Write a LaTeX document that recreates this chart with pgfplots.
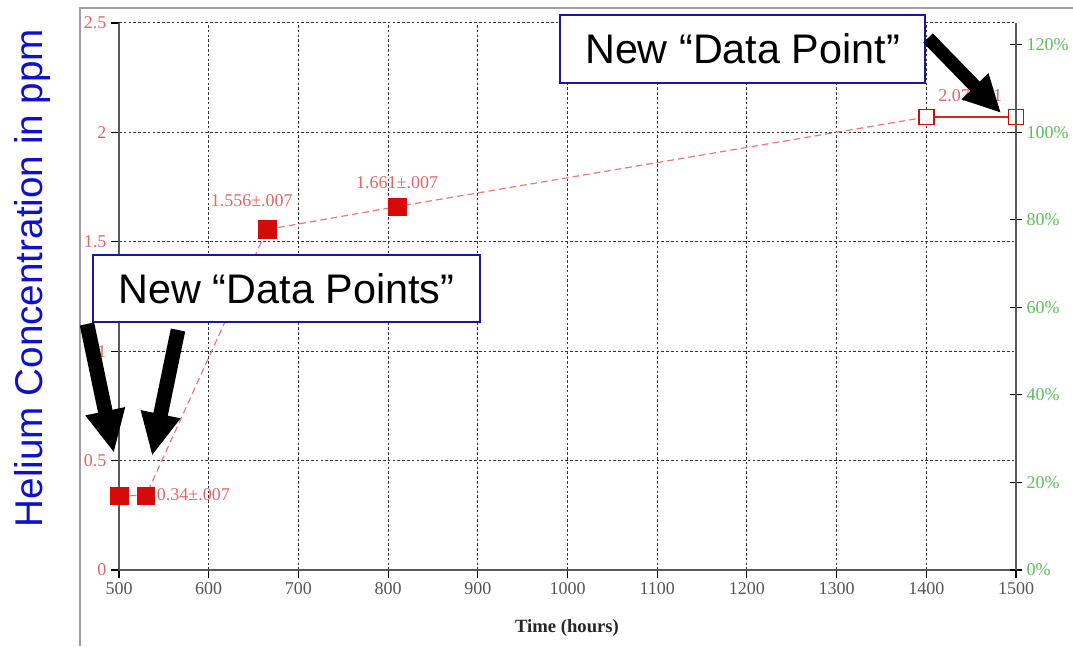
\documentclass[border=0pt]{standalone}
\usepackage{pgfplots}
\pgfplotsset{compat=1.18}
\usepackage{fontspec}
\setmainfont{Liberation Serif}
\newfontfamily\arial{Liberation Sans}
\usetikzlibrary{arrows.meta}
\definecolor{ptred}{RGB}{215,10,10}
\definecolor{lred}{RGB}{238,120,120}
\definecolor{tickred}{RGB}{228,100,100}
\definecolor{tickgreen}{RGB}{90,190,90}
\definecolor{tickgray}{RGB}{85,85,85}
\definecolor{boxblue}{RGB}{25,25,150}
\definecolor{labblue}{RGB}{15,15,205}
\begin{document}
\begin{tikzpicture}
\useasboundingbox (0,0) rectangle (804.75pt,484.5pt);
\draw[gray!75, line width=1.5pt] (60pt,0pt) -- (60pt,478.5pt) -- (804.75pt,478.5pt);
\begin{axis}[
  at={(89.25pt,57pt)}, anchor=south west, scale only axis,
  width=672.75pt, height=410.25pt,
  xmin=500, xmax=1500, ymin=0, ymax=2.5,
  axis x line*=bottom, axis y line*=left,
  axis line style={draw=black!65, line width=1.1pt, -},
  xtick={500,600,...,1500},
  xticklabels={500,600,700,800,900,1000,1100,1200,1300,1400,1500},
  ytick={0,0.5,1,1.5,2,2.5},
  yticklabels={0,0.5,1,1.5,2,2.5},
  /pgf/number format/assume math mode=true,
  tick style={black, line width=0.8pt},
  major tick length=6pt,
  tick align=outside,
  xticklabel style={font=\fontsize{13.5}{15}\selectfont, text=tickgray},
  yticklabel style={font=\fontsize{13.5}{15}\selectfont, text=tickred},
  grid=major,
  major grid style={draw=black!80, line width=0.75pt, dash pattern=on 2pt off 1.6pt},
  clip=false,
]
\addplot[lred, line width=0.9pt, dash pattern=on 5pt off 3pt] coordinates {
  (500,0.34) (530,0.34) (665,1.556) (810,1.661) (1400,2.07)};
\addplot[ptred!90, line width=0.9pt] coordinates {(1400,2.07) (1500,2.07)};
\addplot[only marks, mark=square*, mark size=6.6pt, mark options={fill=ptred, draw=ptred}] coordinates {
  (500,0.34) (530,0.34) (665,1.556) (810,1.661)};
\addplot[only marks, mark=square*, mark size=5.6pt, mark options={fill=white, draw=ptred, line width=1.2pt}] coordinates {
  (1400,2.07) (1500,2.07)};
\node[text=tickred, font=\fontsize{13.5}{15}\selectfont, anchor=west] at (axis cs:537,0.343) {0.34±.007};
\node[text=tickred, font=\fontsize{13.5}{15}\selectfont] at (axis cs:648,1.69) {1.556±.007};
\node[text=tickred, font=\fontsize{13.5}{15}\selectfont] at (axis cs:810,1.77) {1.661±.007};
\node[text=tickred, font=\fontsize{13.5}{15}\selectfont] at (axis cs:1449,2.17) {2.07±.01};
\end{axis}
\begin{axis}[
  at={(89.25pt,57pt)}, anchor=south west, scale only axis,
  width=672.75pt, height=410.25pt,
  xmin=500, xmax=1500, ymin=0, ymax=125,
  axis x line=none, axis y line*=right,
  axis line style={draw=black!65, line width=1.1pt, -},
  ytick={0,20,40,60,80,100,120},
  yticklabels={0\%,20\%,40\%,60\%,80\%,100\%,120\%},
  tick style={black, line width=0.8pt},
  major tick length=9pt,
  tick align=center,
  yticklabel style={font=\fontsize{13.5}{15}\selectfont, text=tickgreen},
]
\addplot[draw=none] coordinates {(500,0) (1500,0)};
\end{axis}
\begin{scope}[x=0.75pt, y=-0.75pt, shift={(0pt,484.5pt)}]
  \node[rotate=90, text=labblue, font=\arial\fontsize{29}{30}\selectfont] at (33,278) {Helium Concentration in ppm};
  \node[font=\bfseries\fontsize{14}{16}\selectfont, text=black!85] at (567,628) {Time (hours)};
  \draw[boxblue, line width=1.2pt, fill=white] (93,255) rectangle (480,322);
  \node[font=\arial\fontsize{31}{32}\selectfont] at (286.5,289) {New “Data Points”};
  \draw[boxblue, line width=1.2pt, fill=white] (560,15) rectangle (925,83);
  \node[font=\arial\fontsize{31}{32}\selectfont] at (742.5,49) {New “Data Point”};
  \draw[black, line width=11pt, -{Triangle[length=32pt,width=28pt]}] (87,324) -- (114,453);
  \draw[black, line width=11pt, -{Triangle[length=32pt,width=28pt]}] (178,330) -- (152,456);
  \draw[black, line width=10pt, -{Triangle[length=28pt,width=26pt]}] (928,38) -- (1001,113);
\end{scope}
\end{tikzpicture}
\end{document}
